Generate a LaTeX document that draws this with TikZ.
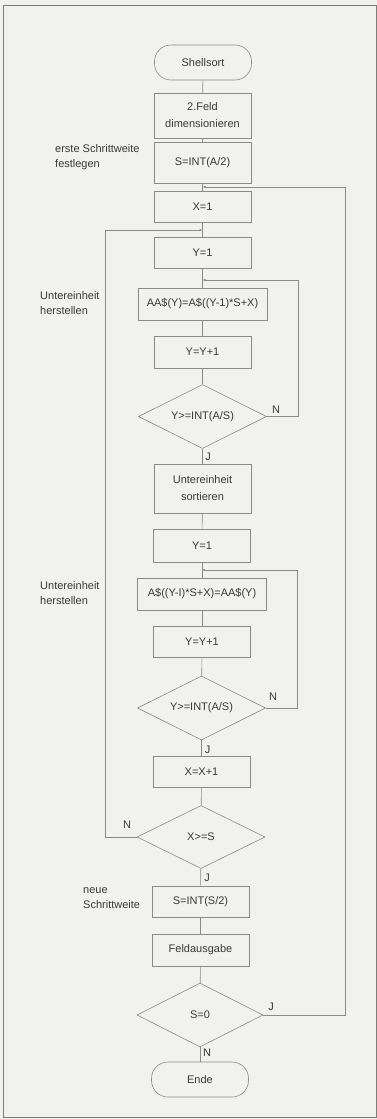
\documentclass[tikz,border=0pt]{standalone}
\usepackage{fontspec}
\setmainfont{Liberation Sans}
\usetikzlibrary{shapes.geometric,arrows.meta}
\definecolor{paper}{HTML}{F1F1EF}
\definecolor{ln}{HTML}{8A8A8A}
\definecolor{tx}{HTML}{3A3A3A}
\begin{document}
\begin{tikzpicture}[x=1pt,y=-1pt,
  every node/.style={font=\fontsize{11}{17}\selectfont, text=tx, inner sep=0pt},
  box/.style={draw=ln, line width=0.6pt, rectangle, minimum width=97pt, align=center},
  wbox/.style={box, minimum width=129pt},
  term/.style={draw=ln, line width=0.6pt, rectangle, rounded corners=16.5pt, minimum width=97pt, minimum height=35pt},
  dec/.style={draw=ln, line width=0.6pt, diamond, aspect=2, minimum width=128pt, minimum height=64pt, inner sep=0pt},
  side/.style={align=left, anchor=west, font=\fontsize{11}{14.5}\selectfont},
  yn/.style={font=\fontsize{11}{13}\selectfont},
  conn/.style={draw=ln, line width=0.6pt},
  tip/.style={conn, -{Latex[length=3pt,width=2.4pt]}}]
\useasboundingbox (0,0) rectangle (377,1119);
\fill[paper] (0,0) rectangle (377,1119);
\draw[ln!90!black, line width=0.8pt] (3,5) rectangle (376,1117);

\node[term] (start) at (203,62.5) {Shellsort};
\node[box, minimum height=45pt] (feld) at (202.5,115.5) {2.Feld\\dimensionieren};
\node[box, minimum height=41pt] (sint) at (202.5,162.5) {S=INT(A/2)};
\node[box, minimum height=31pt] (x1) at (202.5,206.5) {X=1};
\node[box, minimum height=31pt] (y1a) at (202.5,252.5) {Y=1};
\node[wbox, minimum height=32pt] (aa) at (202.5,304) {AA\$(Y)=A\$((Y-1)*S+X)};
\node[box, minimum height=32pt] (yy1) at (202.5,352) {Y=Y+1};
\node[dec] (d1) at (202.5,416.5) {Y>=INT(A/S)};
\node[box, minimum height=49pt] (sort) at (202.5,488.5) {Untereinheit\\sortieren};
\node[box, minimum height=33pt] (y1b) at (202,545.5) {Y=1};
\node[wbox, minimum height=32pt] (ab) at (202,594) {A\$((Y-I)*S+X)=AA\$(Y)};
\node[box, minimum height=31pt] (yy2) at (202,641.5) {Y=Y+1};
\node[dec] (d2) at (201.5,708) {Y>=INT(A/S)};
\node[box, minimum height=31pt] (xx) at (201.5,771.5) {X=X+1};
\node[dec, minimum height=63pt] (d3) at (201,837) {X>=S};
\node[box, minimum height=31pt] (sh) at (200.5,901.5) {S=INT(S/2)};
\node[box, minimum height=32pt] (fa) at (200.5,950) {Feldausgabe};
\node[dec, minimum width=126pt] (d4) at (200,1015) {S=0};
\node[term] (ende) at (200,1079.5) {Ende};

\node[side] (l1) at (55,157) {erste Schrittweite\\festlegen};
\node[side] (l2) at (40,303) {Untereinheit\\herstellen};
\node[side] (l3) at (40,593) {Untereinheit\\herstellen};
\node[side] (l4) at (83,898) {neue\\Schrittweite};

\coordinate (m1) at (202.5,187);
\coordinate (m2) at (202.5,230);
\coordinate (m3) at (202.5,280);
\coordinate (m4) at (202,570);

\draw[conn] (start) -- (feld);
\draw[conn] (feld) -- (sint);
\draw[conn] (sint) -- (x1);
\draw[conn] (x1) -- (y1a);
\draw[conn] (y1a) -- (aa);
\draw[conn] (aa) -- (yy1);
\draw[conn] (yy1) -- (d1);
\draw[conn] (d1) -- (sort);
\draw[conn] (sort) -- (y1b);
\draw[conn] (y1b) -- (ab);
\draw[conn] (ab) -- (yy2);
\draw[conn] (yy2) -- (d2);
\draw[conn] (d2) -- (xx);
\draw[conn] (xx) -- (d3);
\draw[conn] (d3) -- (sh);
\draw[conn] (sh) -- (fa);
\draw[conn] (fa) -- (d4);
\draw[conn] (d4) -- (ende);

\draw[tip] (d1.east) -- (298,416.5) -- (298,280) -- (m3);
\draw[tip] (d2.east) -- (297,708) -- (297,570) -- (m4);
\draw[tip] (d3.west) -- (105,837) -- (105,230) -- (m2);
\draw[tip] (d4.east) -- (345,1015) -- (345,187) -- (m1);

\node[yn] (n1) at (276,410) {N};
\node[yn] (j1) at (208,457) {J};
\node[yn] (n2) at (273,697) {N};
\node[yn] (j2) at (207.5,750) {J};
\node[yn] (n3) at (127,825) {N};
\node[yn] (j3) at (207,878) {J};
\node[yn] (j4) at (271,1007) {J};
\node[yn] (n4) at (207,1053) {N};
\end{tikzpicture}
\end{document}
